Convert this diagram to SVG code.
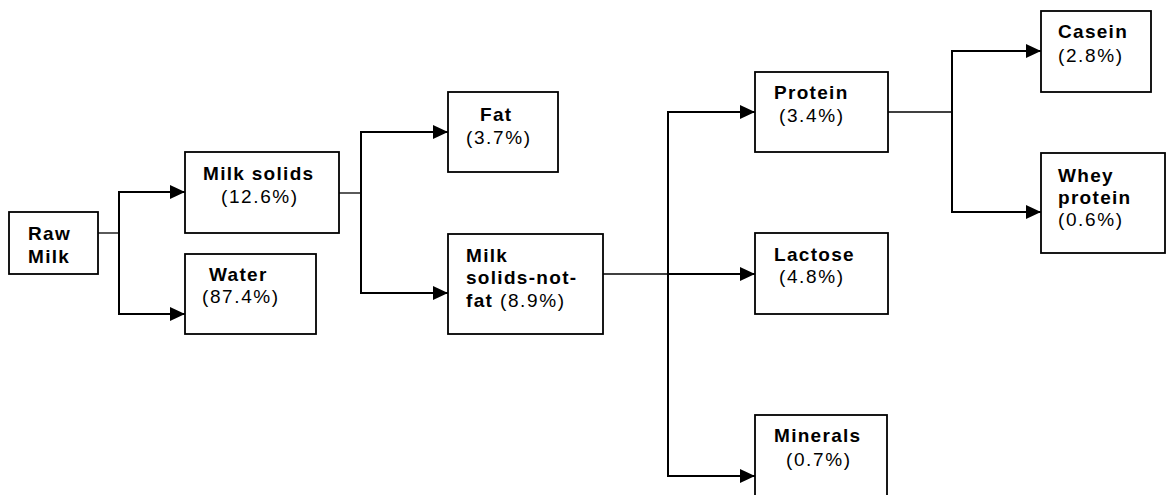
<svg xmlns="http://www.w3.org/2000/svg" width="1166" height="495" viewBox="0 0 1166 495">
<defs>
<style>
rect.box{fill:#fff;stroke:#000;stroke-width:1.8}
.stub{stroke:#000;stroke-width:1.3;fill:none}
.arr{stroke:#000;stroke-width:2;fill:none}
text{font-family:"Liberation Sans",Arial,sans-serif;font-size:19px;fill:#000;letter-spacing:1.3px}
.b{font-weight:bold}
.r{letter-spacing:1.6px}
</style>
<marker id="ah" markerUnits="userSpaceOnUse" markerWidth="16" markerHeight="14" refX="15" refY="7" orient="auto">
<path d="M0,0 L15,7 L0,14 z" fill="#000"/>
</marker>
</defs>
<rect width="1166" height="495" fill="#fff"/>
<g id="connectors">
<line class="stub" x1="98" y1="233" x2="119" y2="233"/>
<line class="arr" x1="119" y1="192" x2="119" y2="314"/>
<line class="arr" x1="118" y1="192" x2="185" y2="192" marker-end="url(#ah)"/>
<line class="arr" x1="118" y1="314" x2="185" y2="314" marker-end="url(#ah)"/>
<line class="stub" x1="339" y1="193" x2="361" y2="193"/>
<line class="arr" x1="361" y1="132" x2="361" y2="293"/>
<line class="arr" x1="360" y1="132" x2="448" y2="132" marker-end="url(#ah)"/>
<line class="arr" x1="360" y1="293" x2="448" y2="293" marker-end="url(#ah)"/>
<line class="stub" x1="603" y1="274" x2="668" y2="274"/>
<line class="arr" x1="668" y1="112" x2="668" y2="476"/>
<line class="arr" x1="667" y1="112" x2="755" y2="112" marker-end="url(#ah)"/>
<line class="arr" x1="668" y1="274" x2="755" y2="274" marker-end="url(#ah)"/>
<line class="arr" x1="667" y1="476" x2="755" y2="476" marker-end="url(#ah)"/>
<line class="stub" x1="888" y1="112" x2="952" y2="112"/>
<line class="arr" x1="952" y1="51" x2="952" y2="212"/>
<line class="arr" x1="951" y1="51" x2="1041" y2="51" marker-end="url(#ah)"/>
<line class="arr" x1="951" y1="212" x2="1041" y2="212" marker-end="url(#ah)"/>
</g>
<g id="raw-milk">
<rect class="box" x="9" y="212" width="89" height="62"/>
<text class="b" x="28" y="240">Raw</text>
<text class="b" x="28" y="263">Milk</text>
</g>
<g id="milk-solids">
<rect class="box" x="185" y="152" width="154" height="81"/>
<text class="b" x="203" y="180">Milk solids</text>
<text class="r" x="221" y="203">(12.6%)</text>
</g>
<g id="water">
<rect class="box" x="185" y="254" width="131" height="80"/>
<text class="b" x="209" y="281">Water</text>
<text class="r" x="202" y="303">(87.4%)</text>
</g>
<g id="fat">
<rect class="box" x="448" y="92" width="110" height="80"/>
<text class="b" x="480" y="121">Fat</text>
<text class="r" x="466" y="144">(3.7%)</text>
</g>
<g id="msnf">
<rect class="box" x="448" y="234" width="155" height="100"/>
<text class="b" x="466" y="262">Milk</text>
<text class="b" x="466" y="284">solids-not-</text>
<text x="466" y="307"><tspan class="b">fat</tspan><tspan class="r"> (8.9%)</tspan></text>
</g>
<g id="protein">
<rect class="box" x="755" y="72" width="133" height="80"/>
<text class="b" x="774" y="99">Protein</text>
<text class="r" x="779" y="122">(3.4%)</text>
</g>
<g id="lactose">
<rect class="box" x="755" y="233" width="133" height="81"/>
<text class="b" x="774" y="261">Lactose</text>
<text class="r" x="779" y="283">(4.8%)</text>
</g>
<g id="minerals">
<rect class="box" x="755" y="415" width="132" height="85"/>
<text class="b" x="774" y="442">Minerals</text>
<text class="r" x="786" y="466">(0.7%)</text>
</g>
<g id="casein">
<rect class="box" x="1041" y="11" width="110" height="81"/>
<text class="b" x="1058" y="38">Casein</text>
<text class="r" x="1058" y="62">(2.8%)</text>
</g>
<g id="whey-protein">
<rect class="box" x="1041" y="153" width="124" height="100"/>
<text class="b" x="1058" y="182">Whey</text>
<text class="b" x="1058" y="204">protein</text>
<text class="r" x="1058" y="226">(0.6%)</text>
</g>
</svg>
